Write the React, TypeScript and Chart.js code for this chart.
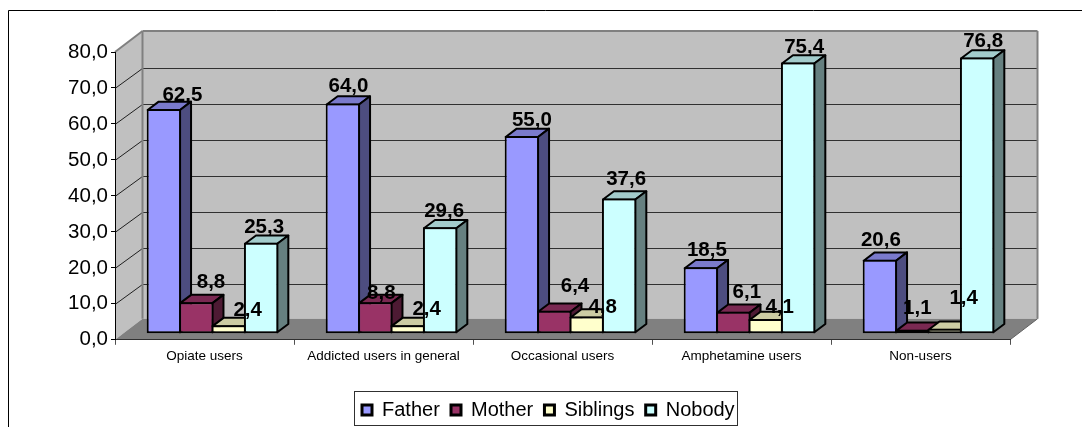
import React, { useEffect, useRef } from "react";
import { Chart, registerables } from "chart.js";

Chart.register(...registerables);

const categories = ["Opiate users", "Addicted users in general", "Occasional users", "Amphetamine users", "Non-users"];
const father = [62.5, 64.0, 55.0, 18.5, 20.6];
const mother = [8.8, 8.8, 6.4, 6.1, 1.1];
const siblings = [2.4, 2.4, 4.8, 4.1, 1.4];
const nobody = [25.3, 29.6, 37.6, 75.4, 76.8];

// hand-placed label centres in the original, as an offset from the bar's front top centre
const labelOffsets = [
  [[18.5, -14], [5.6, -17], [10, -16], [6, -17], [1, -19]],
  [[14.7, -19.7], [6, -9], [20.7, -24], [13.5, -20], [5, -21]],
  [[19, -15], [19, -16], [16, -9], [14, -12], [19, -30]],
  [[3, -15], [4, -16], [7, -19], [6, -15], [6, -16]],
];

const faces = [
  { front: "#9999FF", top: "#7A7ACC", side: "#4D4D80" },
  { front: "#993366", top: "#7A2952", side: "#4D1A33" },
  { front: "#FFFFCC", top: "#CCCCA3", side: "#808066" },
  { front: "#CCFFFF", top: "#A3CCCC", side: "#668080" },
];

const FONT = "'Liberation Sans', Arial, sans-serif";
const DEPTH_X = 27.5;
const DEPTH_Y = -21;
const BAR_SHIFT_X = 8;
const BAR_SHIFT_Y = -6;
const BAR_DX = 11;
const BAR_DY = -8.3;
const LEGEND_PAD = 11.2;

function poly(ctx: CanvasRenderingContext2D, pts: number[][], fill?: string, stroke?: string, lw = 1) {
  ctx.beginPath();
  pts.forEach((p, i) => (i ? ctx.lineTo(p[0], p[1]) : ctx.moveTo(p[0], p[1])));
  ctx.closePath();
  if (fill) {
    ctx.fillStyle = fill;
    ctx.fill();
  }
  if (stroke) {
    ctx.strokeStyle = stroke;
    ctx.lineWidth = lw;
    ctx.stroke();
  }
}

function line(ctx: CanvasRenderingContext2D, x0: number, y0: number, x1: number, y1: number, color: string, lw: number) {
  ctx.beginPath();
  ctx.moveTo(x0, y0);
  ctx.lineTo(x1, y1);
  ctx.strokeStyle = color;
  ctx.lineWidth = lw;
  ctx.stroke();
}

const scene3d = {
  id: "scene3d",
  afterLayout(chart: any) {
    const lg = chart.legend;
    lg.left = 362 - LEGEND_PAD;
    lg.right = 900;
    lg.width = lg.right - lg.left;
    lg.top = 400 - LEGEND_PAD;
    lg.bottom = 426;
    lg.height = lg.bottom - lg.top;
  },
  beforeDraw(chart: any) {
    const ctx: CanvasRenderingContext2D = chart.ctx;
    const { left, right } = chart.chartArea;
    const y = chart.scales.y;
    const y0 = y.getPixelForValue(0);
    const yMax = y.getPixelForValue(80);
    ctx.save();
    ctx.fillStyle = "#FFFFFF";
    ctx.fillRect(0, 0, chart.width, chart.height);
    // outer frame (open at right and bottom, running off the picture)
    ctx.beginPath();
    ctx.moveTo(8.5, 427);
    ctx.lineTo(8.5, 10.5);
    ctx.lineTo(1082, 10.5);
    ctx.strokeStyle = "#000000";
    ctx.lineWidth = 1;
    ctx.stroke();
    // walls and floor
    const bl = left + DEPTH_X;
    const br = right + DEPTH_X;
    poly(ctx, [[bl, yMax + DEPTH_Y], [br, yMax + DEPTH_Y], [br, y0 + DEPTH_Y], [bl, y0 + DEPTH_Y]], "#C0C0C0");
    poly(ctx, [[left, y0], [left, yMax], [bl, yMax + DEPTH_Y], [bl, y0 + DEPTH_Y]], "#C0C0C0");
    poly(ctx, [[left, y0], [right, y0], [br, y0 + DEPTH_Y], [bl, y0 + DEPTH_Y]], "#808080");
    // gridlines
    y.ticks.forEach((t: any) => {
      if (t.value === 0 || t.value === 80) return;
      const py = Math.round(y.getPixelForValue(t.value)) + 0.5;
      const pb = Math.round(py + DEPTH_Y) + 0.5;
      line(ctx, left, py, bl, pb, "#202020", 1);
      line(ctx, bl, pb, br, pb, "#303030", 1);
    });
    // wall edges
    line(ctx, left, yMax, bl, yMax + DEPTH_Y, "#808080", 2);
    line(ctx, bl, yMax + DEPTH_Y, br, yMax + DEPTH_Y, "#808080", 2);
    line(ctx, bl, yMax + DEPTH_Y, bl, y0 + DEPTH_Y, "#808080", 2);
    line(ctx, br, yMax + DEPTH_Y, br, y0 + DEPTH_Y, "#808080", 2);
    line(ctx, right, y0, br, y0 + DEPTH_Y, "#606060", 1);
    // legend frame
    ctx.strokeStyle = "#303030";
    ctx.lineWidth = 1;
    ctx.strokeRect(354.5, 391.5, 383, 34);
    ctx.restore();
  },
  beforeDatasetsDraw(chart: any) {
    const ctx: CanvasRenderingContext2D = chart.ctx;
    ctx.save();
    ctx.lineJoin = "round";
    categories.forEach((_, i) => {
      chart.data.datasets.forEach((_d: any, di: number) => {
        const el = chart.getDatasetMeta(di).data[i];
        const p = el.getProps(["x", "y", "base", "width"], true);
        const l = p.x - p.width / 2 + 1 + BAR_SHIFT_X;
        const r = p.x + p.width / 2 - 1 + BAR_SHIFT_X;
        const t = p.y + 1 + BAR_SHIFT_Y;
        const b = p.base - 1 + BAR_SHIFT_Y;
        const f = faces[di];
        poly(ctx, [[l, t], [r, t], [r + BAR_DX, t + BAR_DY], [l + BAR_DX, t + BAR_DY]], f.top, "#000000", 2);
        poly(ctx, [[r, t], [r + BAR_DX, t + BAR_DY], [r + BAR_DX, b + BAR_DY], [r, b]], f.side, "#000000", 2);
        ctx.save();
        ctx.translate(BAR_SHIFT_X, BAR_SHIFT_Y);
        el.draw(ctx);
        ctx.restore();
      });
    });
    ctx.restore();
    return false;
  },
  afterDraw(chart: any) {
    const ctx: CanvasRenderingContext2D = chart.ctx;
    ctx.save();
    ctx.font = "bold 20.5px " + FONT;
    ctx.fillStyle = "#000000";
    ctx.textAlign = "center";
    ctx.textBaseline = "middle";
    chart.data.datasets.forEach((d: any, di: number) => {
      chart.getDatasetMeta(di).data.forEach((el: any, i: number) => {
        const p = el.getProps(["x", "y"], true);
        const o = labelOffsets[di][i];
        ctx.fillText(
          d.data[i].toFixed(1).replace(".", ","),
          p.x + BAR_SHIFT_X + o[0],
          p.y + BAR_SHIFT_Y + o[1]
        );
      });
    });
    ctx.restore();
  },
};

export default function App() {
  const ref = useRef<HTMLCanvasElement>(null);
  useEffect(() => {
    const names = ["Father", "Mother", "Siblings", "Nobody"];
    const values = [father, mother, siblings, nobody];
    const chart = new Chart(ref.current as HTMLCanvasElement, {
      type: "bar",
      data: {
        labels: categories,
        datasets: names.map((label, i) => ({
          label,
          data: values[i],
          backgroundColor: faces[i].front,
          borderColor: "#000000",
          borderWidth: 2,
          borderSkipped: false,
          categoryPercentage: 0.7245,
          barPercentage: 1.06,
        })),
      },
      options: {
        responsive: false,
        animation: false,
        devicePixelRatio: 1,
        layout: { padding: { left: 0, right: 72, top: 52, bottom: 0 } },
        plugins: {
          title: { display: false },
          tooltip: { enabled: false },
          legend: {
            position: "bottom",
            align: "start",
            labels: {
              font: { family: FONT, size: 20 },
              color: "#000000",
              boxWidth: 10,
              boxHeight: 10,
              padding: LEGEND_PAD,
              generateLabels: () =>
                names.map((text, i) => ({
                  text,
                  fillStyle: faces[i].front,
                  strokeStyle: "#000000",
                  lineWidth: 3,
                  datasetIndex: i,
                })),
            },
          },
        },
        scales: {
          x: {
            grid: {
              offset: true,
              drawOnChartArea: false,
              drawTicks: true,
              tickLength: 5,
              tickColor: "#505050",
            },
            border: { color: "#303030", width: 1 },
            ticks: {
              autoSkip: false,
              maxRotation: 0,
              padding: 3,
              color: "#000000",
              font: { family: FONT, size: 13.5 },
            },
            afterFit: (s: any) => {
              s.height = 46;
            },
          },
          y: {
            min: 0,
            max: 80,
            grid: {
              drawOnChartArea: false,
              drawTicks: true,
              tickLength: 4,
              tickColor: "#000000",
            },
            border: { color: "#000000", width: 1 },
            ticks: {
              stepSize: 10,
              padding: 3,
              color: "#000000",
              font: { family: FONT, size: 20.5 },
              callback: (v: any) => Number(v).toFixed(1).replace(".", ","),
            },
            afterFit: (s: any) => {
              s.width = 115;
            },
          },
        },
      },
      plugins: [scene3d],
    } as any);
    return () => chart.destroy();
  }, []);
  return (
    <div style={{ position: "fixed", left: 0, top: 0, width: 1082, height: 427 }}>
      <canvas ref={ref} width={1082} height={427} style={{ display: "block" }} />
    </div>
  );
}
